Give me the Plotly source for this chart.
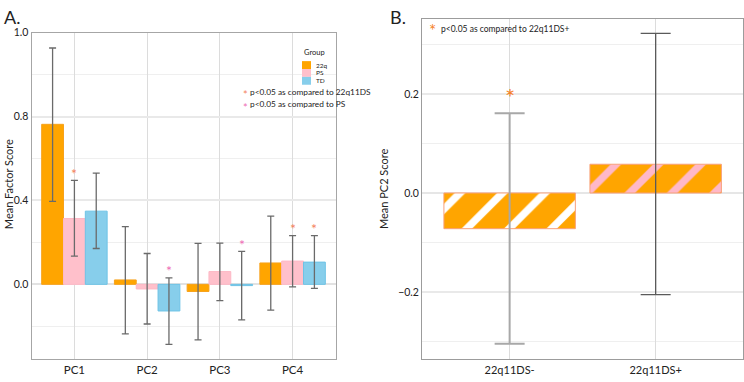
import plotly.graph_objects as go
from plotly.subplots import make_subplots

# ---------------- data ----------------
components = ["PC1", "PC2", "PC3", "PC4"]
groups = ["22q", "PS", "TD"]
mean_22q = [0.763, 0.021, -0.034, 0.102]
mean_ps = [0.314, -0.022, 0.061, 0.111]
mean_td = [0.349, -0.127, -0.006, 0.106]
ci_high_22q = [1.127, 0.275, 0.195, 0.325]
ci_low_22q = [0.396, -0.236, -0.265, -0.123]
ci_high_ps = [0.496, 0.147, 0.197, 0.232]
ci_low_ps = [0.135, -0.189, -0.078, -0.012]
ci_high_td = [0.530, 0.031, 0.157, 0.232]
ci_low_td = [0.171, -0.286, -0.169, -0.019]
# significance markers: (component, group, kind) kind: "22q" vs 22q11DS, "PS" vs PS
sig_marks = [("PC1", "PS", "22q"), ("PC2", "TD", "PS"), ("PC3", "TD", "PS"),
             ("PC4", "PS", "22q"), ("PC4", "TD", "22q")]

pc2_groups = ["22q11DS-", "22q11DS+"]
pc2_mean = [-0.072, 0.058]
pc2_ci_high = [0.161, 0.322]
pc2_ci_low = [-0.304, -0.205]
pc2_sig = ["22q11DS-"]

left_ticks = [0.0, 0.4, 0.8, 1.2]
left_tick_text = ["0.0", "0.4", "0.8", "1.0"]
right_ticks = [-0.2, 0.0, 0.2]
right_tick_text = ["\u22120.2", "0.0", "0.2"]

# ---------------- style ----------------
W, H = 744, 382
FONT = "Lato"
COL = {"22q": "#FFA500", "PS": "#FFC0CB", "TD": "#87CEEB"}
LINE = {"22q": "#F7A21B", "PS": "#FDB9C6", "TD": "#6EC3E6"}
STAR_ORANGE = "#F4845F"
STAR_PINK = "#EE6DB6"
TXT = "#222222"

def px(x):
    return x / W

def py(y):
    return 1 - y / H

fig = make_subplots(rows=1, cols=2)

series = {
    "22q": (mean_22q, ci_high_22q, ci_low_22q),
    "PS": (mean_ps, ci_high_ps, ci_low_ps),
    "TD": (mean_td, ci_high_td, ci_low_td),
}
for g in groups:
    m, hi, lo = series[g]
    fig.add_trace(go.Bar(
        x=components, y=m, name=g, showlegend=False,
        marker=dict(color=COL[g], line=dict(color=LINE[g], width=1)),
        error_y=dict(type="data", symmetric=False,
                     array=[h - v for h, v in zip(hi, m)],
                     arrayminus=[v - l for l, v in zip(lo, m)],
                     color="#6a6a6a", thickness=1.3, width=3.5),
    ), row=1, col=1)

pat_fg = ["#FFFFFF", "#FFB8C8"]
err_col = ["#A8A8A8", "#5a5a5a"]
err_th = [2, 1.3]
for i, g in enumerate(pc2_groups):
    fig.add_trace(go.Bar(
        x=[g], y=[pc2_mean[i]], showlegend=False, offsetgroup="b", width=0.9,
        marker=dict(color="#FFA500", line=dict(color="#F8A07A", width=1),
                    pattern=dict(shape="/", fgcolor=pat_fg[i], bgcolor="#FFA500",
                                 fgopacity=1, size=30, solidity=0.25,
                                 fillmode="replace")),
        error_y=dict(type="data", symmetric=False,
                     array=[pc2_ci_high[i] - pc2_mean[i]],
                     arrayminus=[pc2_mean[i] - pc2_ci_low[i]],
                     color=err_col[i], thickness=err_th[i], width=15),
    ), row=1, col=2)

annotations = []
# significance asterisks, left panel
offsets = {"22q": -0.3, "PS": 0.0, "TD": 0.3}
for comp, g, kind in sig_marks:
    ci = series[g][1][components.index(comp)]
    annotations.append(dict(
        x=components.index(comp) + offsets[g], y=ci, xref="x", yref="y",
        text="*", showarrow=False, yshift=7,
        font=dict(size=14, color=STAR_ORANGE if kind == "22q" else STAR_PINK, family=FONT)))
# right panel asterisk
for g in pc2_sig:
    i = pc2_groups.index(g)
    annotations.append(dict(
        x=i, y=pc2_ci_high[i], xref="x2", yref="y2", text="*", showarrow=False,
        yshift=17, font=dict(size=24, color="#F5832A", family=FONT)))

# panel labels
annotations += [
    dict(x=px(2), y=py(11), xref="paper", yref="paper", text="A.", showarrow=False,
         xanchor="left", yanchor="middle", font=dict(size=18, color=TXT, family=FONT)),
    dict(x=px(388), y=py(11), xref="paper", yref="paper", text="B.", showarrow=False,
         xanchor="left", yanchor="middle", font=dict(size=18, color=TXT, family=FONT)),
    dict(x=px(8), y=py(181), xref="paper", yref="paper", text="Mean Factor Score",
         showarrow=False, textangle=-90, xanchor="center", yanchor="middle",
         font=dict(size=11, color=TXT, family=FONT)),
    dict(x=px(383), y=py(186), xref="paper", yref="paper", text="Mean PC2 Score",
         showarrow=False, textangle=-90, xanchor="center", yanchor="middle",
         font=dict(size=11, color=TXT, family=FONT)),
    # left significance legend
    dict(x=px(241), y=py(90), xref="paper", yref="paper", text="*",
         showarrow=False, xanchor="left", yanchor="middle",
         font=dict(size=11, color=STAR_ORANGE, family=FONT)),
    dict(x=px(248), y=py(87), xref="paper", yref="paper",
         text="p&lt;0.05 as compared to 22q11DS",
         showarrow=False, xanchor="left", yanchor="middle",
         font=dict(size=8.3, color=TXT, family=FONT)),
    dict(x=px(241), y=py(103), xref="paper", yref="paper", text="*",
         showarrow=False, xanchor="left", yanchor="middle",
         font=dict(size=11, color=STAR_PINK, family=FONT)),
    dict(x=px(248), y=py(100), xref="paper", yref="paper",
         text="p&lt;0.05 as compared to PS",
         showarrow=False, xanchor="left", yanchor="middle",
         font=dict(size=8.3, color=TXT, family=FONT)),
    # right significance legend
    dict(x=px(427), y=py(25), xref="paper", yref="paper", text="*",
         showarrow=False, xanchor="left", yanchor="middle",
         font=dict(size=17, color="#F5832A", family=FONT)),
    dict(x=px(439), y=py(23), xref="paper", yref="paper",
         text="p&lt;0.05 as compared to 22q11DS+",
         showarrow=False, xanchor="left", yanchor="middle",
         font=dict(size=8.5, color=TXT, family=FONT)),
    # group legend
    dict(x=px(302), y=py(47), xref="paper", yref="paper", text="Group", showarrow=False,
         xanchor="left", yanchor="middle", font=dict(size=7.5, color=TXT, family=FONT)),
]
shapes = []
sw_top = 56
for k, g in enumerate(groups):
    y0 = sw_top + k * 8
    shapes.append(dict(type="rect", xref="paper", yref="paper",
                       x0=px(302), x1=px(311), y0=py(y0), y1=py(y0 + 8),
                       fillcolor=COL[g], line=dict(width=0)))
    annotations.append(dict(x=px(314), y=py(y0 + 4), xref="paper", yref="paper", text=g,
                            showarrow=False, xanchor="left", yanchor="middle",
                            font=dict(size=6.5, color=TXT, family=FONT)))

frame = "#A6A6A6"
grid = "#E9E9E9"
fig.update_layout(
    width=W, height=H, margin=dict(l=0, r=0, t=0, b=0),
    paper_bgcolor="white", plot_bgcolor="white",
    barmode="group", bargap=0.1, bargroupgap=0,
    font=dict(family=FONT, size=10, color=TXT),
    annotations=annotations, shapes=shapes,
    xaxis=dict(domain=[px(31.5), px(335.5)], range=[-0.59, 3.59],
               showline=True, linecolor=frame, linewidth=1, mirror=True,
               showgrid=True, gridcolor="#DCDCDC", gridwidth=1, ticks="",
               tickfont=dict(size=11.5, color=TXT, family=FONT)),
    yaxis=dict(domain=[py(359), py(27)], range=[-0.3577, 1.2005],
               tickvals=left_ticks, ticktext=left_tick_text,
               showline=True, linecolor=frame, linewidth=1, mirror=True,
               showgrid=True, gridcolor=grid, gridwidth=1.5,
               zeroline=True, zerolinecolor="#E2E2E2", zerolinewidth=2,
               minor=dict(tickvals=[-0.2, 0.2, 0.6, 1.0], showgrid=True,
                          gridcolor="#EFEFEF", gridwidth=1, ticks=""),
               ticks="", tickfont=dict(size=10.5, color=TXT, family=FONT)),
    xaxis2=dict(domain=[px(422), px(743.3)], range=[-0.6, 1.6],
                showline=True, linecolor="#9C9C9C", linewidth=1, mirror=True,
                showgrid=True, gridcolor="#DCDCDC", gridwidth=1, ticks="",
                tickfont=dict(size=11, color=TXT, family=FONT)),
    yaxis2=dict(domain=[py(359), py(13)], range=[-0.3357, 0.3515],
                tickvals=right_ticks, ticktext=right_tick_text,
                showline=True, linecolor="#9C9C9C", linewidth=1, mirror=True,
                showgrid=True, gridcolor=grid, gridwidth=1.5,
                zeroline=True, zerolinecolor="#E6E6E6", zerolinewidth=1.5,
                minor=dict(tickvals=[-0.3, -0.1, 0.1, 0.3], showgrid=True,
                           gridcolor="#EFEFEF", gridwidth=1, ticks=""),
                ticks="", tickfont=dict(size=10.5, color=TXT, family=FONT)),
)

fig.write_html("out.html")
